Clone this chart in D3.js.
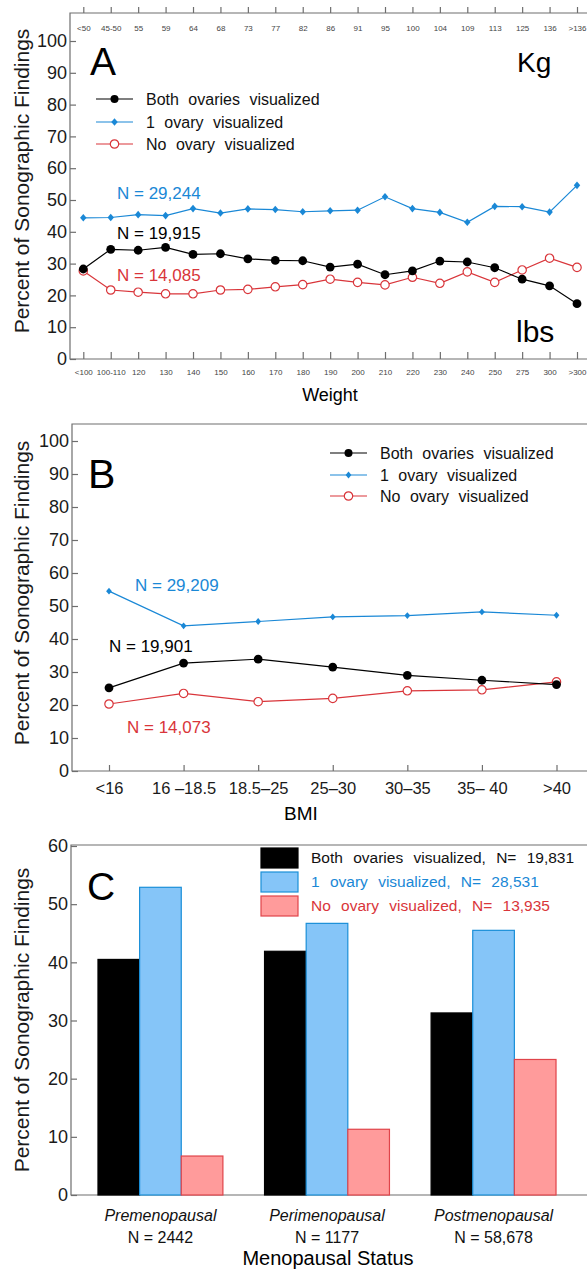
<!DOCTYPE html>
<html>
<head>
<meta charset="utf-8">
<script src="https://cdn.jsdelivr.net/npm/d3@7"></script>
<style>
body { margin: 0; background: #fff; }
svg { display: block; font-family: 'Liberation Sans', Arial, sans-serif; }
</style>
</head>
<body>
<div id="chart"></div>
<script>
// panel A - weight
const weightKg = ['<50', '45-50', '55', '59', '64', '68', '73', '77', '82', '86', '91', '95', '100', '104', '109', '113', '125', '136', '>136']
const weightLbs = ['<100', '100-110', '120', '130', '140', '150', '160', '170', '180', '190', '200', '210', '220', '230', '240', '250', '275', '300', '>300']
const weightBoth = [28.3, 34.5, 34.2, 35.1, 32.9, 33.1, 31.5, 31, 30.9, 28.9, 29.8, 26.5, 27.7, 30.8, 30.5, 28.7, 25.1, 23, 17.4]
const weightOne = [44.4, 44.5, 45.4, 45.1, 47.3, 45.9, 47.2, 47, 46.3, 46.6, 46.8, 51, 47.3, 46.1, 43, 48, 47.9, 46.2, 54.6]
const weightNone = [27.7, 21.7, 21, 20.5, 20.5, 21.7, 21.9, 22.7, 23.4, 25.1, 24.1, 23.3, 25.7, 23.8, 27.4, 24.1, 28, 31.7, 28.8]

// panel B - BMI
const bmiCats = ['<16', '16 \u201318.5', '18.5\u201325', '25\u201330', '30\u201335', '35\u2013 40', '>40']
const bmiBoth = [25.2, 32.7, 33.9, 31.5, 29, 27.5, 26.2]
const bmiOne = [54.5, 44, 45.3, 46.7, 47.1, 48.2, 47.2]
const bmiNone = [20.3, 23.5, 21, 22, 24.3, 24.6, 27]

// panel C - menopausal status
const menoCats = ['Premenopausal', 'Perimenopausal', 'Postmenopausal']
const menoN = ['N = 2442', 'N = 1177', 'N = 58,678']
const menoBoth = [40.5, 41.9, 31.3]
const menoOne = [52.9, 46.7, 45.5]
const menoNone = [6.7, 11.3, 23.3]

const seriesNames = ['Both ovaries visualized', '1 ovary visualized', 'No ovary visualized']
const menoLegend = ['Both ovaries visualized, N= 19,831', '1 ovary visualized, N= 28,531', 'No ovary visualized, N= 13,935']
const pctTicks = [0, 10, 20, 30, 40, 50, 60, 70, 80, 90, 100]
const pctTicksC = [0, 10, 20, 30, 40, 50, 60]

const blue = '#1a88d6'
const red = '#d9353a'
const gray = '#6e6e6e'
const colors = ['#000', blue, red]

const svg = d3
  .select('#chart')
  .append('svg')
  .attr('width', 587)
  .attr('height', 1270)

function frame(box) {
  svg
    .append('path')
    .attr('d', `M${box.right},${box.top}H${box.left}V${box.bottom}H${box.right}`)
    .attr('fill', 'none')
    .attr('stroke', gray)
    .attr('stroke-width', 1.2)
}

function yAxis(box, scale, values) {
  const g = svg
    .append('g')
    .attr('transform', `translate(${box.left},0)`)
    .call(d3.axisLeft(scale).tickValues(values).tickSizeInner(-6).tickSizeOuter(0).tickPadding(3))
  g.select('.domain').remove()
  g.selectAll('line').attr('stroke', gray).attr('stroke-width', 1.2)
  g.selectAll('text').attr('font-size', 18).attr('fill', '#1a1a1a').attr('font-family', 'Liberation Sans, Arial')
}

function yLabel(x, y) {
  svg
    .append('text')
    .attr('transform', `translate(${x},${y}) rotate(-90)`)
    .attr('text-anchor', 'middle')
    .attr('font-size', 21)
    .attr('fill', '#1a1a1a')
    .text('Percent of Sonographic Findings')
}

function marker(g, kind, color, r) {
  if (kind === 0) {
    g.append('circle').attr('r', r).attr('fill', color)
  } else if (kind === 1) {
    g.append('path')
      .attr('d', `M0,${-r}L${r * 0.85},0L0,${r}L${-r * 0.85},0Z`)
      .attr('fill', color)
  } else {
    g.append('circle').attr('r', r).attr('fill', '#fff').attr('stroke', color).attr('stroke-width', 1.2)
  }
}

function lineSeries(cats, values, x, y, kind, sizes) {
  const pts = cats.map((c, i) => ({ c: c, v: values[i] }))
  svg
    .append('path')
    .datum(pts)
    .attr('fill', 'none')
    .attr('stroke', colors[kind])
    .attr('stroke-width', 1.2)
    .attr('d', d3.line().x(d => x(d.c)).y(d => y(d.v)))
  svg
    .selectAll('.pt-' + kind + '-' + cats.length)
    .data(pts)
    .enter()
    .append('g')
    .attr('class', 'pt-' + kind + '-' + cats.length)
    .attr('transform', d => `translate(${x(d.c)},${y(d.v)})`)
    .each(function () {
      marker(d3.select(this), kind, colors[kind], sizes[kind])
    })
}

function lineLegend(x0, rows, fontSize, sizes) {
  seriesNames.forEach((name, i) => {
    const g = svg.append('g').attr('transform', `translate(${x0},${rows[i]})`)
    g.append('line').attr('x1', 0).attr('x2', 37).attr('stroke', colors[i]).attr('stroke-width', 1.2)
    marker(g.append('g').attr('transform', 'translate(18.5,0)'), i, colors[i], sizes[i])
    g.append('text')
      .attr('x', 50)
      .attr('dy', '0.35em')
      .attr('font-size', fontSize)
      .style('word-spacing', '5px')
      .attr('fill', '#111')
      .text(name)
  })
}

function note(x, y, txt, color, size) {
  svg
    .append('text')
    .attr('x', x)
    .attr('y', y)
    .attr('font-size', size || 17)
    .attr('fill', color)
    .text(txt)
}

// ---------- PANEL A ----------
const boxA = { left: 70, right: 587, top: 13, bottom: 359 }
const xA = d3.scalePoint().domain(weightLbs).range([83.3, 577])
const xAkg = d3.scalePoint().domain(weightKg).range([83.3, 577])
const yA = d3.scaleLinear().domain([0, 100]).range([boxA.bottom, 41])

frame(boxA)
yAxis(boxA, yA, pctTicks)

const botA = svg
  .append('g')
  .attr('transform', `translate(0,${boxA.bottom})`)
  .call(d3.axisBottom(xA).tickSizeInner(-7).tickSizeOuter(0).tickPadding(10))
botA.select('.domain').remove()
botA.selectAll('line').attr('stroke', gray).attr('stroke-width', 1.2)
botA.selectAll('text').attr('font-size', 8).attr('fill', '#444').attr('font-family', 'Liberation Sans, Arial')

const topA = svg
  .append('g')
  .attr('transform', `translate(0,${boxA.top})`)
  .call(d3.axisBottom(xAkg).tickSizeInner(-6).tickSizeOuter(0).tickPadding(12))
topA.select('.domain').remove()
topA.selectAll('line').attr('stroke', gray).attr('stroke-width', 1.2)
topA.selectAll('text').attr('font-size', 8).attr('fill', '#444').attr('font-family', 'Liberation Sans, Arial')

lineSeries(weightLbs, weightOne, xA, yA, 1, [4.4, 3.8, 4.2])
lineSeries(weightLbs, weightNone, xA, yA, 2, [4.4, 3.8, 4.2])
lineSeries(weightLbs, weightBoth, xA, yA, 0, [4.4, 3.8, 4.2])

lineLegend(96, [99, 122, 144], 16, [4, 3.8, 4.2])

note(90, 75, 'A', '#000', 39)
note(517, 72, 'Kg', '#000', 28)
note(516, 342, 'lbs', '#000', 30)
note(117, 199, 'N = 29,244', blue)
note(117, 239, 'N = 19,915', '#000')
note(117, 281, 'N = 14,085', red)

yLabel(29, 181)
svg.append('text').attr('x', 330).attr('y', 401).attr('text-anchor', 'middle').attr('font-size', 18).text('Weight')

// ---------- PANEL B ----------
const boxB = { left: 72, right: 587, top: 424, bottom: 771 }
const xB = d3.scalePoint().domain(bmiCats).range([109, 556.5])
const yB = d3.scaleLinear().domain([0, 100]).range([boxB.bottom, 441])

frame(boxB)
yAxis(boxB, yB, pctTicks)

const botB = svg
  .append('g')
  .attr('transform', `translate(0,${boxB.bottom})`)
  .call(d3.axisBottom(xB).tickSizeInner(-6).tickSizeOuter(0).tickPadding(11))
botB.select('.domain').remove()
botB.selectAll('line').attr('stroke', gray).attr('stroke-width', 1.2)
botB.selectAll('text').attr('font-size', 16.5).attr('fill', '#1a1a1a').attr('font-family', 'Liberation Sans, Arial')

lineSeries(bmiCats, bmiOne, xB, yB, 1, [4.4, 3.4, 4.2])
lineSeries(bmiCats, bmiNone, xB, yB, 2, [4.4, 3.4, 4.2])
lineSeries(bmiCats, bmiBoth, xB, yB, 0, [4.4, 3.4, 4.2])

lineLegend(330, [453, 475, 496], 16, [4, 3.4, 4.2])

note(88, 488, 'B', '#000', 41)
note(135, 591, 'N = 29,209', blue)
note(109, 652, 'N = 19,901', '#000')
note(127, 733, 'N = 14,073', red)

yLabel(29, 593)
svg.append('text').attr('x', 301).attr('y', 820).attr('text-anchor', 'middle').attr('font-size', 19).text('BMI')

// ---------- PANEL C ----------
const boxC = { left: 71, right: 587, top: 845, bottom: 1195 }
const xC = d3.scaleBand().domain(menoCats).range([71, 583]).paddingInner(0.25).paddingOuter(0.162)
const xSub = d3.scaleBand().domain([0, 1, 2]).range([0, xC.bandwidth()])
const yC = d3.scaleLinear().domain([0, 60]).range([boxC.bottom, 846])

frame(boxC)
yAxis(boxC, yC, pctTicksC)

const barFill = ['#000', '#85c5f8', '#ff9b9b']
const barStroke = ['#000', '#1a8fd8', '#e0444a']
const menoSeries = [menoBoth, menoOne, menoNone]

menoSeries.forEach((vals, k) => {
  svg
    .selectAll('.bar-' + k)
    .data(menoCats.map((c, i) => ({ c: c, v: vals[i] })))
    .enter()
    .append('rect')
    .attr('class', 'bar-' + k)
    .attr('x', d => xC(d.c) + xSub(k))
    .attr('y', d => yC(d.v))
    .attr('width', xSub.bandwidth())
    .attr('height', d => yC(0) - yC(d.v))
    .attr('fill', barFill[k])
    .attr('stroke', barStroke[k])
    .attr('stroke-width', 1.2)
})

menoLegend.forEach((txt, i) => {
  const g = svg.append('g').attr('transform', `translate(261,${848 + i * 24})`)
  g.append('rect')
    .attr('width', 37)
    .attr('height', 20)
    .attr('fill', barFill[i])
    .attr('stroke', barStroke[i])
    .attr('stroke-width', 1.2)
  g.append('text')
    .attr('x', 50)
    .attr('y', 10)
    .attr('dy', '0.35em')
    .attr('font-size', 15.5)
    .style('word-spacing', '6px')
    .attr('fill', colors[i] === '#000' ? '#111' : colors[i])
    .text(txt)
})

menoCats.forEach((c, i) => {
  const cx = xC(c) + xC.bandwidth() / 2
  svg.append('text').attr('x', cx).attr('y', 1221).attr('text-anchor', 'middle')
    .attr('font-size', 16).attr('font-style', 'italic').attr('fill', '#111').text(c)
  svg.append('text').attr('x', cx).attr('y', 1243).attr('text-anchor', 'middle')
    .attr('font-size', 16).attr('fill', '#111').text(menoN[i])
})

note(87, 900, 'C', '#000', 39)
yLabel(29, 1020)
svg.append('text').attr('x', 328).attr('y', 1265).attr('text-anchor', 'middle').attr('font-size', 20).text('Menopausal Status')
</script>
</body>
</html>
